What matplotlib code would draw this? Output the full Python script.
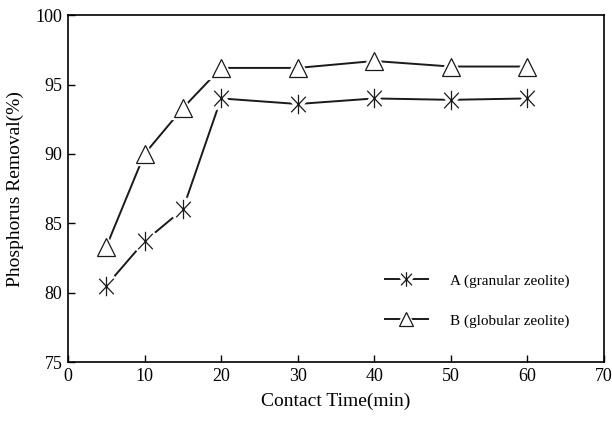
import matplotlib
matplotlib.use('Agg')
import matplotlib.pyplot as plt
from matplotlib.path import Path
from matplotlib.legend_handler import HandlerTuple

# data
time_min = [5, 10, 15, 20, 30, 40, 50, 60]
removal_a = [80.5, 83.7, 86.0, 94.0, 93.6, 94.0, 93.9, 94.0]
removal_b = [83.3, 90.0, 93.3, 96.2, 96.2, 96.7, 96.3, 96.3]
label_a = 'A (granular zeolite)'
label_b = 'B (globular zeolite)'

plt.rcParams['font.family'] = ['Liberation Serif', 'DejaVu Serif']

# asterisk: vertical bar plus an X
star = Path([(0, 1), (0, -1), (-0.75, 0.8), (0.75, -0.8), (-0.75, -0.8), (0.75, 0.8)],
            [Path.MOVETO, Path.LINETO] * 3)

fig = plt.figure(figsize=(6.12, 4.22), dpi=100)
ax = fig.add_axes([0.111, 0.142, 0.876, 0.822])

# lines first, then a white halo under each marker to leave the small gap
ax.plot(time_min, removal_a, color='#1a1a1a', lw=1.4, zorder=1)
ha1, = ax.plot(time_min, removal_a, ls='none', marker=star, ms=17, mew=6,
               color='white', zorder=2)
ha2, = ax.plot(time_min, removal_a, ls='none', marker=star, ms=14, mew=0.9,
               color='#1a1a1a', zorder=3)

ax.plot(time_min, removal_b, color='#1a1a1a', lw=1.4, zorder=1)
hb1, = ax.plot(time_min, removal_b, ls='none', marker='^', ms=14, mew=3,
               mfc='white', mec='white', zorder=2)
hb2, = ax.plot(time_min, removal_b, ls='none', marker='^', ms=13, mew=0.9,
               mfc='white', mec='#1a1a1a', zorder=3)

la, = ax.plot([], [], color='#1a1a1a', lw=1.4)
lb, = ax.plot([], [], color='#1a1a1a', lw=1.4)

ax.legend([(la, ha1, ha2), (lb, hb1, hb2)], [label_a, label_b],
          handler_map={tuple: HandlerTuple(ndivide=1, pad=0)},
          loc='lower right', bbox_to_anchor=(0.962, 0.06), frameon=False,
          fontsize=11, handlelength=2.8, labelspacing=1.7, handletextpad=1.5,
          markerscale=0.75)

ax.set_xlim(0, 70)
ax.set_ylim(75, 100)
ax.set_xticks(range(0, 71, 10))
ax.set_yticks(range(75, 101, 5))
ax.tick_params(direction='in', length=5, width=1, labelsize=13,
               top=False, right=False, pad=4)
for s in ax.spines.values():
    s.set_linewidth(1.2)

ax.set_xlabel('Contact Time(min)', fontsize=14, labelpad=6)
ax.set_ylabel('Phosphorus Removal(%)', fontsize=14, labelpad=8)

fig.savefig('out.png', dpi=100)
